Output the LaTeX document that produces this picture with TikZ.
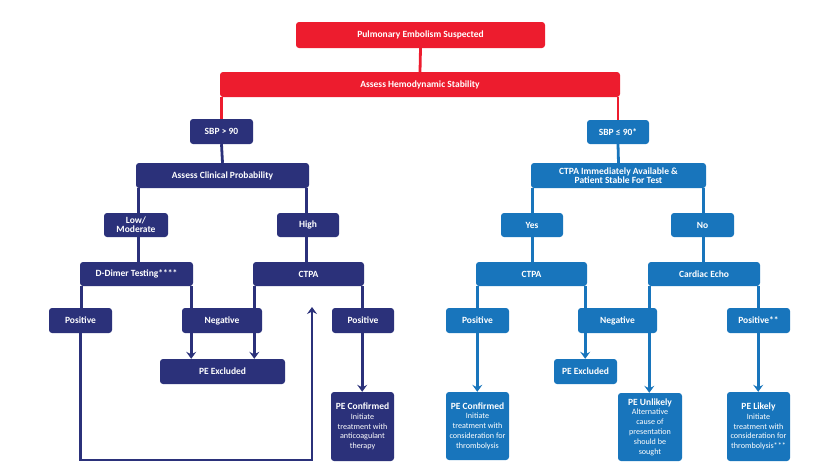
\documentclass[tikz,border=0pt]{standalone}
\usepackage{fontspec}
\setmainfont{Carlito}
\usetikzlibrary{arrows.meta}
\pgfdeclarelayer{background}
\pgfsetlayers{background,main}
\definecolor{pered}{RGB}{237,28,46}
\definecolor{penavy}{RGB}{43,49,122}
\definecolor{peblue}{RGB}{24,117,188}
\newcommand{\pehead}[1]{{\bfseries\fontsize{9.5}{10}\selectfont #1}}

\begin{document}
\begin{tikzpicture}[%
        x = 1pt, y = -1pt,
        > = {Stealth[length = 7pt, width = 10pt, inset = 2.5pt]},
        box/.style = {
            rounded corners = 3pt, text = white, inner sep = 0pt,
            align = center, font = \bfseries\fontsize{9.5}{9}\selectfont
        },
        redbox/.style = {box, fill = pered},
        navybox/.style = {box, fill = penavy},
        bluebox/.style = {box, fill = peblue},
        result/.style = {font = \fontsize{8.1}{9.8}\selectfont},
        redline/.style = {pered, line width = 2.8pt},
        navyline/.style = {penavy, line width = 2.8pt},
        blueline/.style = {peblue, line width = 2.8pt}
    ]

        \useasboundingbox (0, 0) rectangle (840, 467);

        % Top of the chart.
        \node[redbox, minimum width = 249pt, minimum height = 26pt] (suspect) at (420.5, 35) {Pulmonary Embolism Suspected};
        \node[redbox, minimum width = 400pt, minimum height = 25pt] (stability) at (420, 84.5) {Assess Hemodynamic Stability};

        % Stable branch.
        \node[navybox, minimum width = 63pt, minimum height = 25pt] (sbphigh) at (221.5, 131.5) {SBP > 90};
        \node[navybox, minimum width = 173pt, minimum height = 25pt] (clinical) at (222.5, 175.5) {Assess Clinical Probability};
        \node[navybox, minimum width = 64pt, minimum height = 24pt] (lowmod) at (136, 225) {Low/\\Moderate};
        \node[navybox, minimum width = 62pt, minimum height = 24pt] (high) at (308, 225) {High};
        \node[navybox, minimum width = 113pt, minimum height = 24pt] (ddimer) at (136.5, 274) {D-Dimer Testing****};
        \node[navybox, minimum width = 111pt, minimum height = 24pt] (ctpaleft) at (308.5, 274) {CTPA};
        \node[navybox, minimum width = 63pt, minimum height = 25pt] (ddpos) at (80.5, 320.5) {Positive};
        \node[navybox, minimum width = 80pt, minimum height = 25pt] (negleft) at (222, 320.5) {Negative};
        \node[navybox, minimum width = 62pt, minimum height = 25pt] (ctpapos) at (363, 320.5) {Positive};
        \node[navybox, minimum width = 125pt, minimum height = 25pt] (exleft) at (222.5, 371.5) {PE Excluded};
        \node[navybox, result, minimum width = 63pt, minimum height = 69pt] (confleft) at (362.5, 426.5)
            {\pehead{PE Confirmed}\\Initiate\\treatment with\\anticoagulant\\therapy};

        % Unstable branch.
        \node[bluebox, minimum width = 62pt, minimum height = 24pt] (sbplow) at (618, 132) {SBP ≤ 90*};
        \node[bluebox, minimum width = 175pt, minimum height = 25pt] (available) at (618.5, 175.5) {CTPA Immediately Available \&\\Patient Stable For Test};
        \node[bluebox, minimum width = 62pt, minimum height = 24pt] (yes) at (532, 225) {Yes};
        \node[bluebox, minimum width = 63pt, minimum height = 24pt] (no) at (702.5, 225) {No};
        \node[bluebox, minimum width = 111pt, minimum height = 24pt] (ctparight) at (531.5, 274) {CTPA};
        \node[bluebox, minimum width = 112pt, minimum height = 24pt] (echo) at (704, 274) {Cardiac Echo};
        \node[bluebox, minimum width = 63pt, minimum height = 25pt] (posright) at (477.5, 320.5) {Positive};
        \node[bluebox, minimum width = 79pt, minimum height = 25pt] (negright) at (617.5, 320.5) {Negative};
        \node[bluebox, minimum width = 63pt, minimum height = 25pt] (echopos) at (758.5, 320.5) {Positive**};
        \node[bluebox, minimum width = 63pt, minimum height = 25pt] (exright) at (585.5, 371.5) {PE Excluded};
        \node[bluebox, result, minimum width = 63pt, minimum height = 68pt] (confright) at (477.5, 426)
            {\pehead{PE Confirmed}\\Initiate\\treatment with\\consideration for\\thrombolysis};
        \node[bluebox, result, minimum width = 64pt, minimum height = 68pt] (unlikely) at (650, 427)
            {\pehead{PE Unlikely}\\Alternative\\cause of\\presentation\\should be\\sought};
        \node[bluebox, result, minimum width = 63pt, minimum height = 69pt] (likely) at (758.5, 426.5)
            {\pehead{PE Likely}\\Initiate\\treatment with\\consideration for\\thrombolysis***};

        % End of the loop from a positive D-dimer back to CTPA.
        \coordinate (loopbottom) at (0, 460);
        \coordinate (looptop) at (312, 307);

        \begin{pgfonlayer}{background}
            % Red connectors.
            \draw[redline] (suspect.south) -- (stability.north);
            \draw[redline] (stability.south -| sbphigh) -- (sbphigh.north);
            \draw[redline] (stability.south -| sbplow) -- (sbplow.north);

            % Navy connectors.
            \draw[navyline] (sbphigh.south) -- (clinical.north);
            \draw[navyline] ([xshift = 3pt] clinical.south west) -- ([xshift = 3pt] clinical.south west |- ddimer.north);
            \draw[navyline] ([xshift = -3pt] clinical.south east) -- ([xshift = -3pt] clinical.south east |- ctpaleft.north);
            \draw[navyline] ([xshift = 2pt] ddimer.south west) -- ([xshift = 2pt] ddimer.south west |- ddpos.north);
            \draw[navyline, ->] ([xshift = -2pt] ddimer.south east) -- ([xshift = -2pt] ddimer.south east |- exleft.north);
            \draw[navyline, ->] ([xshift = 1.5pt] ctpaleft.south west) -- ([xshift = 1.5pt] ctpaleft.south west |- exleft.north);
            \draw[navyline, ->] ([xshift = -2pt] ctpaleft.south east) -- ([xshift = -2pt] ctpaleft.south east |- confleft.north);
            \draw[navyline, ->] (ddpos.south) -- (ddpos.south |- loopbottom) -| (looptop);

            % Blue connectors.
            \draw[blueline] (sbplow.south) -- (available.north);
            \draw[blueline] ([xshift = 2pt] available.south west) -- ([xshift = 2pt] available.south west |- ctparight.north);
            \draw[blueline] ([xshift = -3pt] available.south east) -- ([xshift = -3pt] available.south east |- echo.north);
            \draw[blueline, ->] ([xshift = 1.5pt] ctparight.south west) -- ([xshift = 1.5pt] ctparight.south west |- confright.north);
            \draw[blueline, ->] ([xshift = -2pt] ctparight.south east) -- ([xshift = -2pt] ctparight.south east |- exright.north);
            \draw[blueline, ->] ([xshift = 1.5pt] echo.south west) -- ([xshift = 1.5pt] echo.south west |- unlikely.north);
            \draw[blueline, ->] ([xshift = -2pt] echo.south east) -- ([xshift = -2pt] echo.south east |- likely.north);
        \end{pgfonlayer}
    \end{tikzpicture}
\end{document}
